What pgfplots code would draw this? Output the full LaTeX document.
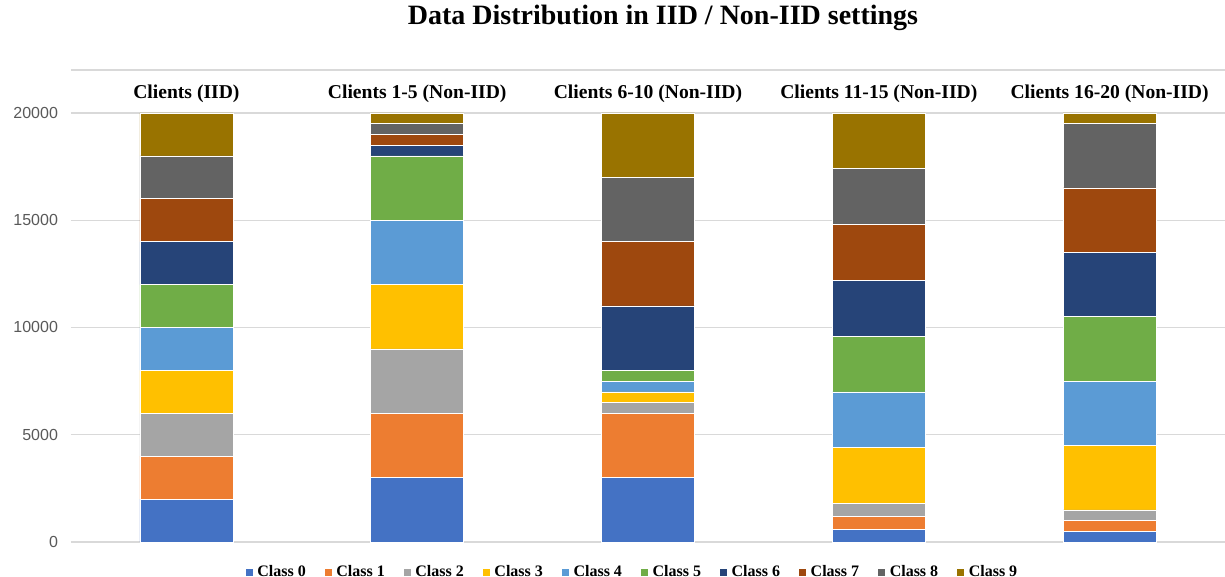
\documentclass[border=0pt]{standalone}
\usepackage{pgfplots}
\pgfplotsset{compat=1.18}
\usepackage{pgfplotstable}
\usepackage{fontspec}
\setmainfont{Liberation Serif}
\newfontfamily\arial{Liberation Sans}
\definecolor{c0}{HTML}{4472C4}
\definecolor{c1}{HTML}{ED7D31}
\definecolor{c2}{HTML}{A5A5A5}
\definecolor{c3}{HTML}{FFC000}
\definecolor{c4}{HTML}{5B9BD5}
\definecolor{c5}{HTML}{70AD47}
\definecolor{c6}{HTML}{264478}
\definecolor{c7}{HTML}{9E480E}
\definecolor{c8}{HTML}{636363}
\definecolor{c9}{HTML}{997300}
\definecolor{gridgray}{HTML}{D9D9D9}
\definecolor{tickgray}{HTML}{595959}
\pgfplotstableread{
x c0 c1 c2 c3 c4 c5 c6 c7 c8 c9
0 2000 2000 2000 2000 2000 2000 2000 2000 2000 2000
1 3000 3000 3000 3000 3000 3000 500 500 500 500
2 3000 3000 500 500 500 500 3000 3000 3000 3000
3 600 600 600 2600 2600 2600 2600 2600 2600 2600
4 500 500 500 3000 3000 3000 3000 3000 3000 500
}\data
\begin{document}
\begin{tikzpicture}
\useasboundingbox (-35.5pt,-17.5pt) rectangle (577pt,271pt);
\begin{axis}[at={(0,0)}, anchor=south west, scale only axis,
  width=577pt, height=236pt,
  ybar stacked, bar width=46.5pt,
  xmin=-0.5, xmax=4.5, ymin=0, ymax=22000,
  xtick=\empty, ytick={0,5000,10000,15000,20000},
  extra y ticks={22000}, extra y tick labels={}, extra y tick style={grid=major},
  ymajorgrids, grid style={color=gridgray, line width=0.6pt},
  major tick length=0pt,
  axis line style={draw=none},
  /pgf/number format/assume math mode=true,
  /pgf/number format/set thousands separator={},
  scaled y ticks=false,
  yticklabel style={font=\arial\fontsize{8}{9}\selectfont, text=tickgray, xshift=-3pt},
  legend style={at={(0.487,-0.064)}, anchor=center, draw=none, fill=none,
    font=\bfseries\fontsize{8}{9}\selectfont, legend columns=10,
    /tikz/every even column/.append style={column sep=7pt}},
  legend image code/.code={\fill[#1] (0pt,-2pt) rectangle (4pt,2pt);},
  clip=false]
\addplot[fill=c0, draw=white, line width=0.3pt] table[x=x,y=c0]{\data};
\addplot[fill=c1, draw=white, line width=0.3pt] table[x=x,y=c1]{\data};
\addplot[fill=c2, draw=white, line width=0.3pt] table[x=x,y=c2]{\data};
\addplot[fill=c3, draw=white, line width=0.3pt] table[x=x,y=c3]{\data};
\addplot[fill=c4, draw=white, line width=0.3pt] table[x=x,y=c4]{\data};
\addplot[fill=c5, draw=white, line width=0.3pt] table[x=x,y=c5]{\data};
\addplot[fill=c6, draw=white, line width=0.3pt] table[x=x,y=c6]{\data};
\addplot[fill=c7, draw=white, line width=0.3pt] table[x=x,y=c7]{\data};
\addplot[fill=c8, draw=white, line width=0.3pt] table[x=x,y=c8]{\data};
\addplot[fill=c9, draw=white, line width=0.3pt] table[x=x,y=c9]{\data};
\legend{Class 0,Class 1,Class 2,Class 3,Class 4,Class 5,Class 6,Class 7,Class 8,Class 9}
\node[font=\bfseries\fontsize{9.8}{11}\selectfont] at (axis cs:0,20900) {Clients (IID)};
\node[font=\bfseries\fontsize{9.8}{11}\selectfont] at (axis cs:1,20900) {Clients 1-5 (Non-IID)};
\node[font=\bfseries\fontsize{9.8}{11}\selectfont] at (axis cs:2,20900) {Clients 6-10 (Non-IID)};
\node[font=\bfseries\fontsize{9.8}{11}\selectfont] at (axis cs:3,20900) {Clients 11-15 (Non-IID)};
\node[font=\bfseries\fontsize{9.8}{11}\selectfont] at (axis cs:4,20900) {Clients 16-20 (Non-IID)};
\end{axis}
\node[font=\bfseries\fontsize{14}{16}\selectfont] at (296pt,262pt) {Data Distribution in IID / Non-IID settings};
\end{tikzpicture}
\end{document}
